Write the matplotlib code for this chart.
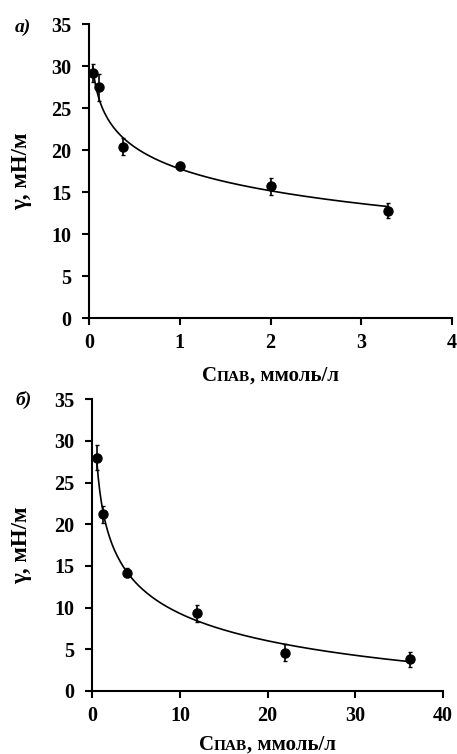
import numpy as np
import matplotlib
matplotlib.use("Agg")
import matplotlib.pyplot as plt
from matplotlib.offsetbox import TextArea, HPacker, AnnotationBbox

plt.rcParams['font.family'] = ['Liberation Serif', 'DejaVu Serif']
plt.rcParams['font.weight'] = 'bold'

# panel a
conc_a = [0.04, 0.11, 0.37, 1.0, 2.0, 3.3]
gamma_a = [29.2, 27.5, 20.4, 18.1, 15.7, 12.8]
err_a = [1.1, 1.6, 1.0, 0.5, 1.0, 0.9]

# panel b
conc_b = [0.5, 1.2, 4.0, 12.0, 22.0, 36.3]
gamma_b = [28.0, 21.2, 14.2, 9.3, 4.6, 3.8]
err_b = [1.5, 1.0, 0.5, 1.0, 1.0, 0.9]

xticks_a = [0, 1, 2, 3, 4]
xticks_b = [0, 10, 20, 30, 40]
yticks = [0, 5, 10, 15, 20, 25, 30, 35]

fig = plt.figure(figsize=(4.57, 7.54), dpi=100)
ax1 = fig.add_axes([0.195, 0.578, 0.794, 0.390])
ax2 = fig.add_axes([0.202, 0.0836, 0.767, 0.387])


def style(ax, xmax, xticks, ylab_x):
    ax.set_xlim(0, xmax)
    ax.set_ylim(0, 35)
    ax.set_xticks(xticks)
    ax.set_yticks(yticks)
    for s in ['top', 'right']:
        ax.spines[s].set_visible(False)
    for s in ['left', 'bottom']:
        ax.spines[s].set_linewidth(1.5)
    ax.tick_params(direction='out', length=5, width=1.5, labelsize=14.5)
    ax.tick_params(axis='x', pad=6)
    ax.tick_params(axis='y', pad=8)
    for lab in ax.get_xticklabels() + ax.get_yticklabels():
        lab.set_fontweight('bold')
    ax.set_ylabel('γ, мН/м', fontsize=16.5, fontweight='bold')
    ax.yaxis.set_label_coords(ylab_x, 0.5)


def xlabel(ax, y):
    parts = [TextArea('C', textprops=dict(fontsize=15, fontweight='bold')),
             TextArea('ПАВ', textprops=dict(fontsize=11, fontweight='bold')),
             TextArea(', ммоль/л', textprops=dict(fontsize=15, fontweight='bold'))]
    box = HPacker(children=parts, align='baseline', pad=0, sep=0)
    ab = AnnotationBbox(box, (0.5, y), xycoords='axes fraction', frameon=False,
                        box_alignment=(0.5, 0.5))
    ax.add_artist(ab)


# fitted trend lines (log fits to the measured points)
ca = np.asarray(conc_a)
pa = np.polyfit(np.log(ca), gamma_a, 1)
xa = np.linspace(ca[0], ca[-1], 200)
ax1.plot(xa, np.polyval(pa, np.log(xa)), color='black', lw=1.2)
ax1.errorbar(conc_a, gamma_a, yerr=err_a, fmt='o', color='black', ms=6.5,
             elinewidth=1.2, capsize=1.5, capthick=1)

cb = np.asarray(conc_b)
pb = np.polyfit(np.log(cb), gamma_b, 2)
xb = np.linspace(cb[0], cb[-1], 200)
ax2.plot(xb, np.polyval(pb, np.log(xb)), color='black', lw=1.2)
ax2.errorbar(conc_b, gamma_b, yerr=err_b, fmt='o', color='black', ms=6.5,
             elinewidth=1.2, capsize=1.5, capthick=1)

style(ax1, 4, xticks_a, -0.157)
style(ax2, 40, xticks_b, -0.173)
xlabel(ax1, -0.195)
xlabel(ax2, -0.185)

fig.text(0.033, 0.964, 'а)', fontsize=14, fontweight='bold', style='italic', va='center')
fig.text(0.033, 0.470, 'б)', fontsize=14, fontweight='bold', style='italic', va='center')

fig.savefig('out.png', dpi=100)
